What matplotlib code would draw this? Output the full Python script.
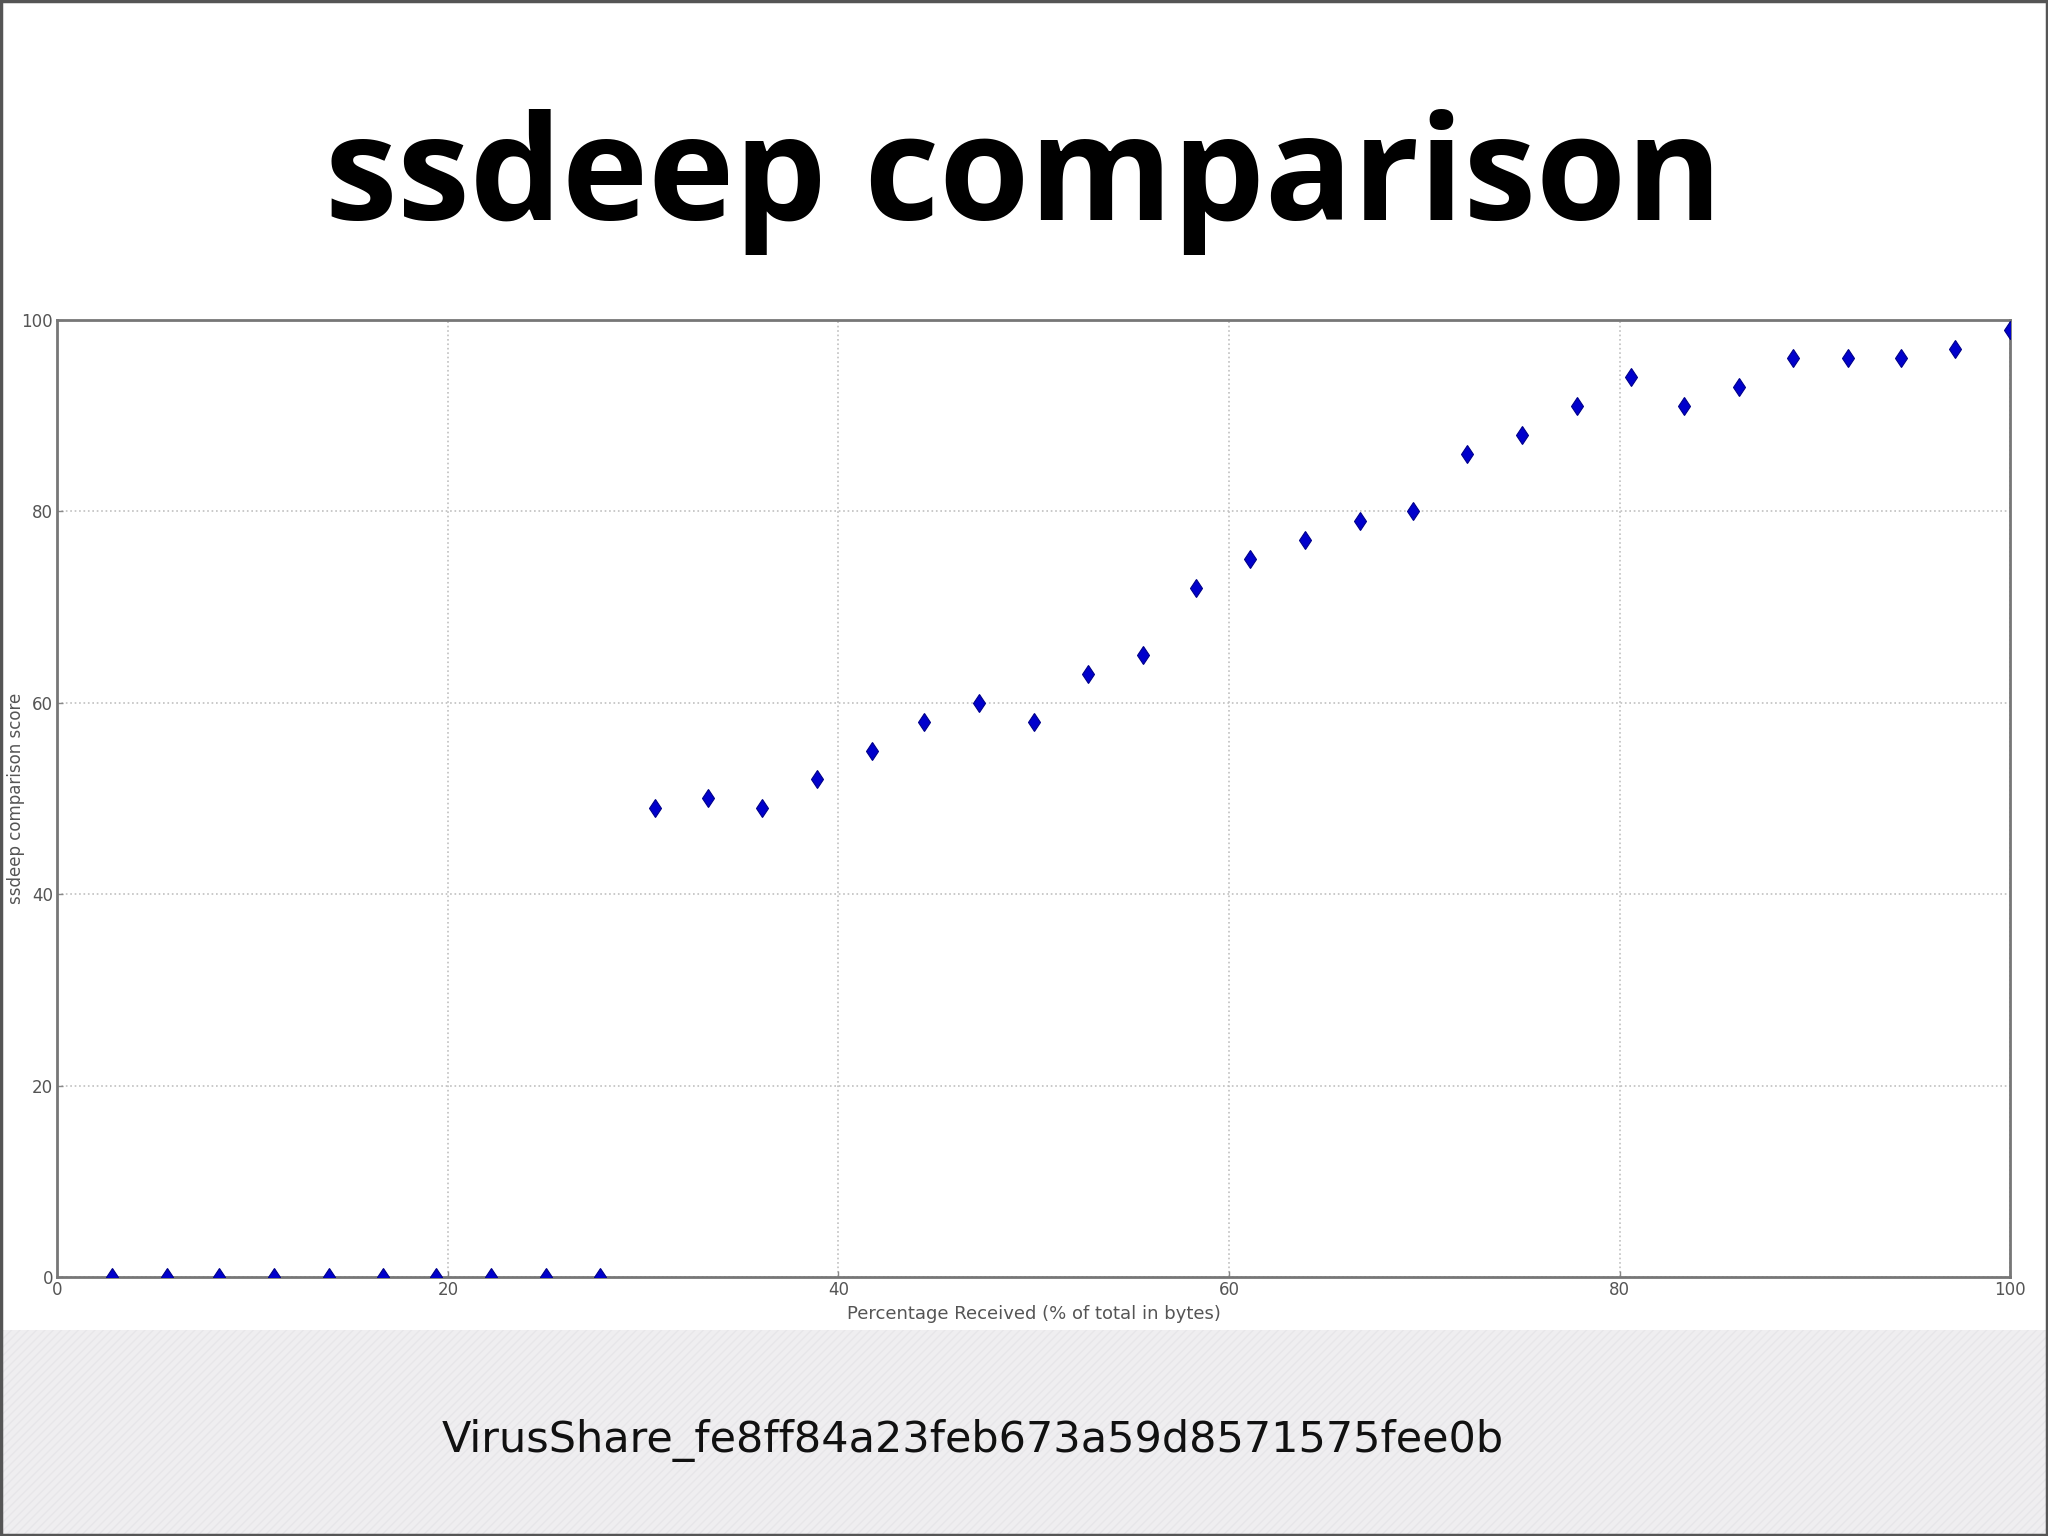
import matplotlib
matplotlib.use('Agg')
import matplotlib.pyplot as plt
from matplotlib.patches import Rectangle

# percentage of file received (x) vs ssdeep score (y)
pct_received = [2.8, 5.6, 8.3, 11.1, 13.9, 16.7, 19.4, 22.2, 25.0, 27.8,
                30.6, 33.3, 36.1, 38.9, 41.7, 44.4, 47.2, 50.0, 52.8, 55.6,
                58.3, 61.1, 63.9, 66.7, 69.4, 72.2, 75.0, 77.8, 80.6, 83.3,
                86.1, 88.9, 91.7, 94.4, 97.2, 100.0]
ssdeep_score = [0, 0, 0, 0, 0, 0, 0, 0, 0, 0,
                49, 50, 49, 52, 55, 58, 60, 58, 63, 65,
                72, 75, 77, 79, 80, 86, 88, 91, 94, 91,
                93, 96, 96, 96, 97, 99]
x_ticks = [0, 20, 40, 60, 80, 100]
y_ticks = [0, 20, 40, 60, 80, 100]

title = 'ssdeep comparison'
sample_name = 'VirusShare_fe8ff84a23feb673a59d8571575fee0b'

fig = plt.figure(figsize=(20.48, 15.36), dpi=100)
fig.patch.set_facecolor('white')

# grey band at the bottom of the slide
band = Rectangle((0, 0), 1, 0.134, transform=fig.transFigure, facecolor='#efeef0',
                 edgecolor='#e7e6e9', hatch='////', linewidth=0, zorder=0)
fig.patches.append(band)
# slide border
border = Rectangle((0.0005, 0.0007), 0.999, 0.9986, transform=fig.transFigure,
                   fill=False, edgecolor='#555555', linewidth=2.5, zorder=10)
fig.patches.append(border)

fig.text(0.5, 0.857, title, ha='center', va='baseline', fontsize=105,
         fontweight='bold', family='Open Sans', color='black')
fig.text(0.475, 0.055, sample_name, ha='center', va='baseline', fontsize=31,
         family='DejaVu Sans', color='#111111')

ax = fig.add_axes([0.028, 0.1686, 0.9535, 0.6231])
ax.plot(pct_received, ssdeep_score, linestyle='none', marker='d',
        markersize=9.5, color='#0000cc', markeredgecolor='#00008a',
        markeredgewidth=0.8, zorder=3)

ax.set_xlim(0, 100)
ax.set_ylim(0, 100)
ax.set_xticks(x_ticks)
ax.set_yticks(y_ticks)
ax.grid(True, linestyle=':', color='#c0c0c0', linewidth=1.2)
for s in ax.spines.values():
    s.set_color('#777777')
    s.set_linewidth(2)
ax.tick_params(direction='in', length=4, width=1, color='#888888',
               labelsize=12, labelcolor='#555555', pad=3)

ax.set_xlabel('Percentage Received (% of total in bytes)', fontsize=13,
              color='#555555', labelpad=4)
ax.set_ylabel('ssdeep comparison score', fontsize=12, color='#555555')
ax.yaxis.set_label_coords(-0.0165, 0.5)

fig.savefig('out.png', dpi=100)
